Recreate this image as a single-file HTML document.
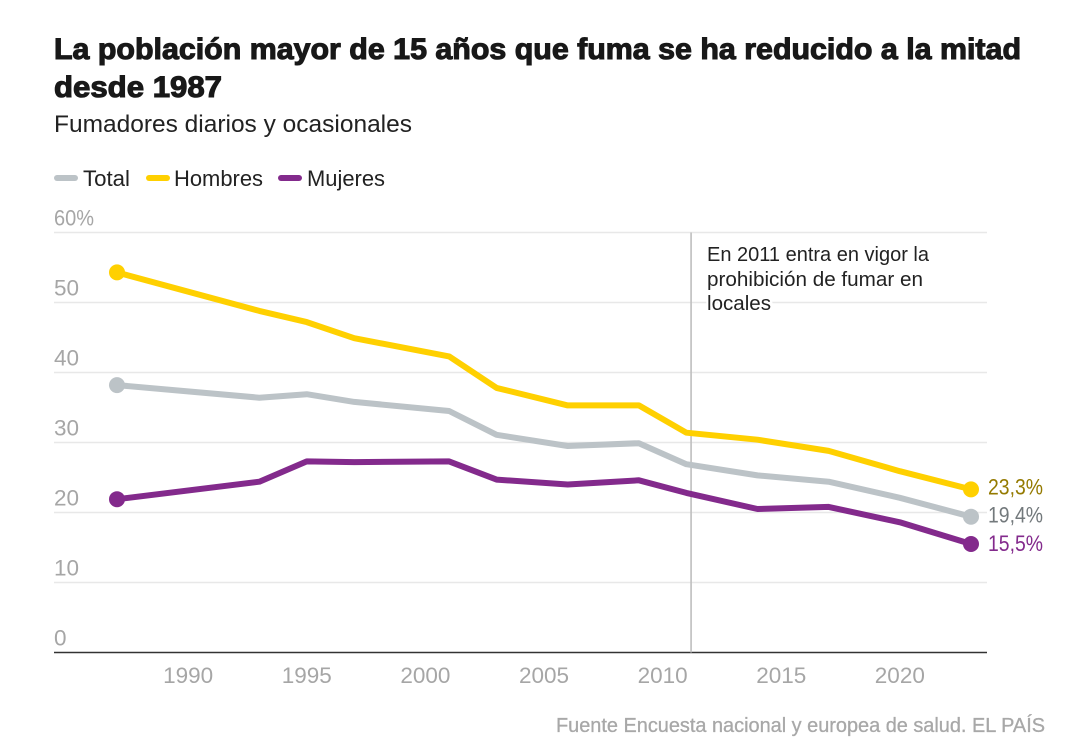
<!DOCTYPE html>
<html lang="es">
<head>
<meta charset="utf-8">
<title>La población mayor de 15 años que fuma se ha reducido a la mitad desde 1987</title>
<style>
html,body{margin:0;padding:0;background:#fff;width:1084px;height:750px;overflow:hidden}
svg{display:block}
text{font-family:"Liberation Sans",sans-serif}
</style>
</head>
<body>
<svg id="chart" width="1084" height="750" viewBox="0 0 1084 750" xmlns="http://www.w3.org/2000/svg">
  <g>
    <text x="54" y="59" font-size="30" font-weight="700" fill="#181818" stroke="#181818" stroke-width="1.1" textLength="967" lengthAdjust="spacingAndGlyphs">La población mayor de 15 años que fuma se ha reducido a la mitad</text>
    <text x="54" y="97" font-size="30" font-weight="700" fill="#181818" stroke="#181818" stroke-width="1.1" textLength="168" lengthAdjust="spacingAndGlyphs">desde 1987</text>
    <text x="54" y="132" font-size="24" fill="#222" textLength="358" lengthAdjust="spacingAndGlyphs">Fumadores diarios y ocasionales</text>
  </g>
  <g>
    <g>
      <line x1="57" y1="178" x2="75" y2="178" stroke="#bcc3c7" stroke-width="6" stroke-linecap="round"/>
      <text x="83" y="186" font-size="22" fill="#222" textLength="47" lengthAdjust="spacingAndGlyphs">Total</text>
    </g>
    <g>
      <line x1="149" y1="178" x2="167" y2="178" stroke="#ffd000" stroke-width="6" stroke-linecap="round"/>
      <text x="174" y="186" font-size="22" fill="#222" textLength="89" lengthAdjust="spacingAndGlyphs">Hombres</text>
    </g>
    <g>
      <line x1="281" y1="178" x2="299" y2="178" stroke="#832a8c" stroke-width="6" stroke-linecap="round"/>
      <text x="307" y="186" font-size="22" fill="#222" textLength="78" lengthAdjust="spacingAndGlyphs">Mujeres</text>
    </g>
  </g>
  <g id="grid"></g>
  <g id="ylabels"></g>
  <g id="xlabels"></g>
  <g id="annotation">
    <line id="annotation-line" stroke="#bfbfbf" stroke-width="1.6"/>
    <text x="707" y="310" font-size="20" fill="#fff" stroke="#fff" stroke-width="4" textLength="64" lengthAdjust="spacingAndGlyphs">locales</text>
    <text x="707" y="261" font-size="20" fill="#222" textLength="222" lengthAdjust="spacingAndGlyphs">En 2011 entra en vigor la</text>
    <text x="707" y="286" font-size="20" fill="#222" textLength="216" lengthAdjust="spacingAndGlyphs">prohibición de fumar en</text>
    <text x="707" y="310" font-size="20" fill="#222" textLength="64" lengthAdjust="spacingAndGlyphs">locales</text>
  </g>
  <g id="series"></g>
  <g id="endlabels"></g>
  <text x="556" y="732" font-size="20" fill="#a8a8a8" stroke="#a8a8a8" stroke-width="0.3" textLength="489" lengthAdjust="spacingAndGlyphs">Fuente Encuesta nacional y europea de salud. EL PAÍS</text>
</svg>
<script>
var years = [1987, 1993, 1995, 1997, 2001, 2003, 2006, 2009, 2011, 2014, 2017, 2020, 2023];
var totalValues = [38.2, 36.4, 36.9, 35.8, 34.5, 31.1, 29.5, 29.9, 26.9, 25.3, 24.4, 22.1, 19.4];
var hombresValues = [54.3, 48.8, 47.2, 44.9, 42.3, 37.8, 35.3, 35.3, 31.4, 30.4, 28.8, 25.9, 23.3];
var mujeresValues = [21.9, 24.4, 27.3, 27.2, 27.3, 24.7, 24.0, 24.6, 22.8, 20.5, 20.8, 18.6, 15.5];
var yTicks = [0, 10, 20, 30, 40, 50, 60];
var xTicks = [1990, 1995, 2000, 2005, 2010, 2015, 2020];
var annotationYear = 2011.2;

var NS = 'http://www.w3.org/2000/svg';
function x(year) { return 117 + (year - 1987) * (971 - 117) / (2023 - 1987); }
function y(value) { return 652.5 - value * 7; }
function make(parent, tag, attrs, text) {
  var el = document.createElementNS(NS, tag);
  for (var k in attrs) el.setAttribute(k, attrs[k]);
  if (text !== undefined) el.textContent = text;
  parent.appendChild(el);
  return el;
}
var gridG = document.getElementById('grid');
var yG = document.getElementById('ylabels');
var xG = document.getElementById('xlabels');
var seriesG = document.getElementById('series');
var endG = document.getElementById('endlabels');

yTicks.forEach(function (t) {
  var line = make(gridG, 'line', {x1: 54, x2: 987, y1: y(t), y2: y(t), stroke: t === 0 ? '#333' : '#e8e8e8', 'stroke-width': t === 0 ? 1.6 : 1.4});
  
  
  var isMax = t === yTicks[yTicks.length - 1];
  var attrs = {x: 54, y: y(t) - 7, 'font-size': 22.5, fill: '#a6a6a6'};
  if (isMax) { attrs.textLength = 40; attrs.lengthAdjust = 'spacingAndGlyphs'; }
  var label = make(yG, 'text', attrs, isMax ? t + '%' : String(t));
  
  
});
xTicks.forEach(function (t) {
  var label = make(xG, 'text', {x: x(t), y: 683, 'font-size': 22.5, fill: '#a6a6a6', 'text-anchor': 'middle'}, String(t));
  
  
});

var annLine = document.getElementById('annotation-line');
annLine.setAttribute('x1', x(annotationYear));
annLine.setAttribute('x2', x(annotationYear));
annLine.setAttribute('y1', y(60));
annLine.setAttribute('y2', y(0));

function drawSeries(values, color, labelColor, labelDy, name) {
  var pts = values.map(function (v, i) { return x(years[i]) + ',' + y(v); }).join(' ');
  var line = make(seriesG, 'polyline', {points: pts, fill: 'none', stroke: color, 'stroke-width': 6, 'stroke-linejoin': 'round'});
  
  
  var first = make(seriesG, 'circle', {cx: x(years[0]), cy: y(values[0]), r: 8, fill: color});
  
  
  var lastIdx = values.length - 1;
  var last = make(seriesG, 'circle', {cx: x(years[lastIdx]), cy: y(values[lastIdx]), r: 8, fill: color});
  
  
  var label = make(endG, 'text', {x: 988, y: y(values[lastIdx]) + labelDy, 'font-size': 22, fill: labelColor, textLength: 55, lengthAdjust: 'spacingAndGlyphs'}, values[lastIdx].toFixed(1).replace('.', ',') + '%');
  
  
}
drawSeries(totalValues, '#bcc3c7', '#73797c', 6, 'total');
drawSeries(hombresValues, '#ffd000', '#947a00', 5, 'hombres');
drawSeries(mujeresValues, '#832a8c', '#832a8c', 7, 'mujeres');
</script>
</body>
</html>
